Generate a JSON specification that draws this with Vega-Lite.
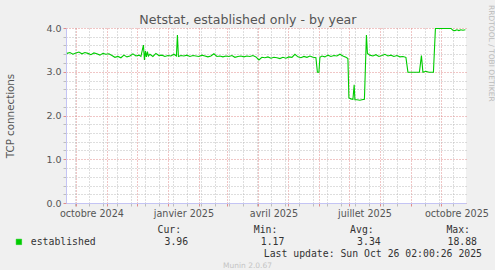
{
  "$schema": "https://vega.github.io/schema/vega-lite/v6.json",
  "background": "#f0f0f0",
  "padding": {"left": 5, "top": 5, "right": 0, "bottom": 0},
  "bounds": "flush",
  "spacing": 27,
  "title": {"text": "Netstat, established only - by year", "anchor": "middle", "frame": "bounds", "offset": -22, "dx": -2.5, "font": "DejaVu Sans", "fontSize": 12.6, "fontWeight": "normal", "color": "#555555"},
  "config": {"view": {"stroke": null}, "font": "DejaVu Sans"},
  "vconcat": [
    {
      "width": 400,
      "height": 175,
      "view": {"fill": "#ffffff", "stroke": null},
      "title": {"text": "RRDTOOL / TOBI OETIKER", "orient": "right", "anchor": "start", "dx": -18, "font": "DejaVu Sans", "fontSize": 7.5, "fontWeight": "normal", "color": "#bbbbbb", "offset": -1},
      "data": {"values": [
        {"date": "2024-09-22T00:00", "value": 3.42}, {"date": "2024-09-25T00:00", "value": 3.44}, {"date": "2024-09-28T00:00", "value": 3.40},
        {"date": "2024-10-01T00:00", "value": 3.43}, {"date": "2024-10-04T00:00", "value": 3.45}, {"date": "2024-10-07T00:00", "value": 3.41},
        {"date": "2024-10-10T00:00", "value": 3.44}, {"date": "2024-10-13T00:00", "value": 3.42}, {"date": "2024-10-16T00:00", "value": 3.39},
        {"date": "2024-10-19T00:00", "value": 3.43}, {"date": "2024-10-22T00:00", "value": 3.41}, {"date": "2024-10-25T00:00", "value": 3.38},
        {"date": "2024-10-28T00:00", "value": 3.42}, {"date": "2024-10-31T00:00", "value": 3.40}, {"date": "2024-11-03T00:00", "value": 3.41},
        {"date": "2024-11-06T00:00", "value": 3.37}, {"date": "2024-11-09T00:00", "value": 3.33}, {"date": "2024-11-12T00:00", "value": 3.35},
        {"date": "2024-11-15T00:00", "value": 3.32}, {"date": "2024-11-18T00:00", "value": 3.38}, {"date": "2024-11-21T00:00", "value": 3.34},
        {"date": "2024-11-24T00:00", "value": 3.36}, {"date": "2024-11-27T00:00", "value": 3.41}, {"date": "2024-11-30T00:00", "value": 3.36},
        {"date": "2024-12-03T00:00", "value": 3.38}, {"date": "2024-12-05T00:00", "value": 3.35}, {"date": "2024-12-07T12:00", "value": 3.61},
        {"date": "2024-12-08T12:00", "value": 3.27}, {"date": "2024-12-09T12:00", "value": 3.47}, {"date": "2024-12-10T12:00", "value": 3.34},
        {"date": "2024-12-11T12:00", "value": 3.46}, {"date": "2024-12-12T12:00", "value": 3.36}, {"date": "2024-12-14T00:00", "value": 3.40},
        {"date": "2024-12-17T00:00", "value": 3.35}, {"date": "2024-12-20T00:00", "value": 3.42}, {"date": "2024-12-23T00:00", "value": 3.37},
        {"date": "2024-12-26T00:00", "value": 3.38}, {"date": "2024-12-29T00:00", "value": 3.35}, {"date": "2025-01-01T00:00", "value": 3.37},
        {"date": "2025-01-04T00:00", "value": 3.36}, {"date": "2025-01-07T00:00", "value": 3.40}, {"date": "2025-01-09T12:00", "value": 3.36},
        {"date": "2025-01-10T12:00", "value": 3.84}, {"date": "2025-01-11T12:00", "value": 3.35}, {"date": "2025-01-14T00:00", "value": 3.37},
        {"date": "2025-01-17T00:00", "value": 3.36}, {"date": "2025-01-20T00:00", "value": 3.38}, {"date": "2025-01-23T00:00", "value": 3.35},
        {"date": "2025-01-26T00:00", "value": 3.37}, {"date": "2025-01-29T00:00", "value": 3.36}, {"date": "2025-02-01T00:00", "value": 3.35},
        {"date": "2025-02-04T00:00", "value": 3.38}, {"date": "2025-02-07T00:00", "value": 3.36}, {"date": "2025-02-10T00:00", "value": 3.34},
        {"date": "2025-02-13T00:00", "value": 3.36}, {"date": "2025-02-16T00:00", "value": 3.41}, {"date": "2025-02-19T00:00", "value": 3.35},
        {"date": "2025-02-22T00:00", "value": 3.36}, {"date": "2025-02-25T00:00", "value": 3.34}, {"date": "2025-02-28T00:00", "value": 3.36},
        {"date": "2025-03-03T00:00", "value": 3.35}, {"date": "2025-03-06T00:00", "value": 3.37}, {"date": "2025-03-09T00:00", "value": 3.33},
        {"date": "2025-03-12T00:00", "value": 3.35}, {"date": "2025-03-15T00:00", "value": 3.36}, {"date": "2025-03-18T00:00", "value": 3.34},
        {"date": "2025-03-21T00:00", "value": 3.36}, {"date": "2025-03-24T00:00", "value": 3.35}, {"date": "2025-03-27T00:00", "value": 3.37},
        {"date": "2025-03-30T00:00", "value": 3.34}, {"date": "2025-04-02T00:00", "value": 3.27}, {"date": "2025-04-05T00:00", "value": 3.33},
        {"date": "2025-04-08T00:00", "value": 3.32}, {"date": "2025-04-11T00:00", "value": 3.34}, {"date": "2025-04-14T00:00", "value": 3.31},
        {"date": "2025-04-17T00:00", "value": 3.33}, {"date": "2025-04-20T00:00", "value": 3.32}, {"date": "2025-04-23T00:00", "value": 3.30},
        {"date": "2025-04-26T00:00", "value": 3.33}, {"date": "2025-04-29T00:00", "value": 3.31}, {"date": "2025-05-02T00:00", "value": 3.34},
        {"date": "2025-05-05T00:00", "value": 3.33}, {"date": "2025-05-08T00:00", "value": 3.40}, {"date": "2025-05-11T00:00", "value": 3.34},
        {"date": "2025-05-14T00:00", "value": 3.32}, {"date": "2025-05-17T00:00", "value": 3.35}, {"date": "2025-05-20T00:00", "value": 3.33},
        {"date": "2025-05-23T00:00", "value": 3.36}, {"date": "2025-05-26T00:00", "value": 3.33}, {"date": "2025-05-29T00:00", "value": 3.32},
        {"date": "2025-05-30T12:00", "value": 2.99}, {"date": "2025-06-01T00:00", "value": 2.99}, {"date": "2025-06-02T00:00", "value": 3.33},
        {"date": "2025-06-04T00:00", "value": 3.36}, {"date": "2025-06-07T00:00", "value": 3.34}, {"date": "2025-06-10T00:00", "value": 3.38},
        {"date": "2025-06-13T00:00", "value": 3.35}, {"date": "2025-06-16T00:00", "value": 3.37}, {"date": "2025-06-19T00:00", "value": 3.36},
        {"date": "2025-06-22T00:00", "value": 3.40}, {"date": "2025-06-25T00:00", "value": 3.36}, {"date": "2025-06-28T00:00", "value": 3.33},
        {"date": "2025-06-30T00:00", "value": 3.30}, {"date": "2025-07-01T00:00", "value": 2.40}, {"date": "2025-07-03T00:00", "value": 2.38},
        {"date": "2025-07-05T00:00", "value": 2.37}, {"date": "2025-07-06T06:00", "value": 2.70}, {"date": "2025-07-07T00:00", "value": 2.36},
        {"date": "2025-07-09T00:00", "value": 2.36}, {"date": "2025-07-12T00:00", "value": 2.35}, {"date": "2025-07-14T00:00", "value": 2.36},
        {"date": "2025-07-16T12:00", "value": 2.37}, {"date": "2025-07-18T12:00", "value": 3.84}, {"date": "2025-07-19T12:00", "value": 3.42},
        {"date": "2025-07-22T00:00", "value": 3.38}, {"date": "2025-07-25T00:00", "value": 3.36}, {"date": "2025-07-28T00:00", "value": 3.39},
        {"date": "2025-07-31T00:00", "value": 3.35}, {"date": "2025-08-03T00:00", "value": 3.37}, {"date": "2025-08-06T00:00", "value": 3.40},
        {"date": "2025-08-09T00:00", "value": 3.36}, {"date": "2025-08-12T00:00", "value": 3.38}, {"date": "2025-08-15T00:00", "value": 3.35},
        {"date": "2025-08-18T00:00", "value": 3.37}, {"date": "2025-08-21T00:00", "value": 3.34}, {"date": "2025-08-24T00:00", "value": 3.35},
        {"date": "2025-08-27T00:00", "value": 3.33}, {"date": "2025-08-29T00:00", "value": 2.99}, {"date": "2025-09-01T00:00", "value": 2.99},
        {"date": "2025-09-05T00:00", "value": 2.99}, {"date": "2025-09-09T12:00", "value": 2.99}, {"date": "2025-09-11T12:00", "value": 3.37},
        {"date": "2025-09-13T00:00", "value": 2.99}, {"date": "2025-09-16T00:00", "value": 3.01}, {"date": "2025-09-19T00:00", "value": 2.99},
        {"date": "2025-09-23T12:00", "value": 2.99}, {"date": "2025-09-25T12:00", "value": 3.99}, {"date": "2025-10-01T00:00", "value": 3.99},
        {"date": "2025-10-06T00:00", "value": 3.99}, {"date": "2025-10-11T00:00", "value": 3.99}, {"date": "2025-10-13T00:00", "value": 3.95},
        {"date": "2025-10-15T00:00", "value": 3.94}, {"date": "2025-10-17T00:00", "value": 3.96}, {"date": "2025-10-19T00:00", "value": 3.94},
        {"date": "2025-10-21T00:00", "value": 3.96}, {"date": "2025-10-23T00:00", "value": 3.95}, {"date": "2025-10-25T12:00", "value": 3.96}
      ]},
      "mark": {"type": "line", "strokeWidth": 1.1},
      "encoding": {
        "x": {
          "field": "date", "type": "temporal", "title": null,
          "scale": {"domain": [{"year": 2024, "month": 9, "date": 21, "hours": 2}, {"year": 2025, "month": 10, "date": 26, "hours": 2}]},
          "axis": {
            "values": [
              {"year": 2024, "month": 9, "date": 30}, {"year": 2024, "month": 10, "date": 1}, {"year": 2024, "month": 10, "date": 14}, {"year": 2024, "month": 10, "date": 28},
              {"year": 2024, "month": 11, "date": 1}, {"year": 2024, "month": 11, "date": 11}, {"year": 2024, "month": 11, "date": 25}, {"year": 2024, "month": 12, "date": 1},
              {"year": 2024, "month": 12, "date": 9}, {"year": 2024, "month": 12, "date": 23}, {"year": 2025, "month": 1, "date": 1}, {"year": 2025, "month": 1, "date": 6},
              {"year": 2025, "month": 1, "date": 20}, {"year": 2025, "month": 2, "date": 1}, {"year": 2025, "month": 2, "date": 3}, {"year": 2025, "month": 2, "date": 17},
              {"year": 2025, "month": 3, "date": 1}, {"year": 2025, "month": 3, "date": 3}, {"year": 2025, "month": 3, "date": 17}, {"year": 2025, "month": 3, "date": 31},
              {"year": 2025, "month": 4, "date": 1}, {"year": 2025, "month": 4, "date": 14}, {"year": 2025, "month": 4, "date": 28}, {"year": 2025, "month": 5, "date": 1},
              {"year": 2025, "month": 5, "date": 12}, {"year": 2025, "month": 5, "date": 26}, {"year": 2025, "month": 6, "date": 1}, {"year": 2025, "month": 6, "date": 9},
              {"year": 2025, "month": 6, "date": 23}, {"year": 2025, "month": 7, "date": 1}, {"year": 2025, "month": 7, "date": 7}, {"year": 2025, "month": 7, "date": 21},
              {"year": 2025, "month": 8, "date": 1}, {"year": 2025, "month": 8, "date": 4}, {"year": 2025, "month": 8, "date": 18}, {"year": 2025, "month": 9, "date": 1},
              {"year": 2025, "month": 9, "date": 15}, {"year": 2025, "month": 9, "date": 29}, {"year": 2025, "month": 10, "date": 1}, {"year": 2025, "month": 10, "date": 13}
            ],
            "grid": true,
            "gridColor": {"condition": {"test": "date(datum.value) == 1", "value": "#e08c8c"}, "value": "#bdbdbd"},
            "gridDash": [1, 2],
            "gridWidth": 1,
            "ticks": true,
            "tickSize": 3,
            "tickColor": {"condition": {"test": "date(datum.value) == 1", "value": "#e08c8c"}, "value": "#bdbdbd"},
            "domainColor": "#c4c4f4",
            "labelExpr": "date(datum.value) == 1 && month(datum.value) % 3 == 0 ? ['janvier','février','mars','avril','mai','juin','juillet','août','septembre','octobre','novembre','décembre'][month(datum.value)] + ' ' + year(datum.value) : ''",
            "labelOffset": 15.5,
            "labelOverlap": false,
            "labelFlush": false,
            "labelBound": false,
            "labelFont": "DejaVu Sans",
            "labelFontSize": 9.6,
            "labelColor": "#555555",
            "labelPadding": 2
          }
        },
        "y": {
          "field": "value", "type": "quantitative",
          "scale": {"domain": [0, 4], "nice": false},
          "axis": {
            "values": [0, 0.2, 0.4, 0.6, 0.8, 1, 1.2, 1.4, 1.6, 1.8, 2, 2.2, 2.4, 2.6, 2.8, 3, 3.2, 3.4, 3.6, 3.8, 4],
            "title": "TCP connections",
            "titleFont": "DejaVu Sans",
            "titleFontSize": 10.3,
            "titleFontWeight": "normal",
            "titleColor": "#555555",
            "titlePadding": 30,
            "grid": true,
            "gridColor": {"condition": {"test": "datum.value % 1 == 0", "value": "#e08c8c"}, "value": "#bdbdbd"},
            "gridDash": [1, 2],
            "ticks": true,
            "tickSize": 3,
            "tickColor": {"condition": {"test": "datum.value % 1 == 0", "value": "#e08c8c"}, "value": "#bdbdbd"},
            "domainColor": "#c4c4f4",
            "labelExpr": "datum.value % 1 == 0 ? format(datum.value, '.1f') : ''",
            "labelOverlap": false,
            "labelFont": "DejaVu Sans",
            "labelFontSize": 9.5,
            "labelColor": "#555555",
            "labelPadding": 2
          }
        },
        "color": {
          "datum": "established",
          "type": "nominal",
          "scale": {"domain": ["established"], "range": ["#00cc00"]},
          "legend": {
            "orient": "none", "legendX": -52, "legendY": 209, "title": null, "padding": 0,
            "symbolType": "square", "symbolSize": 30, "symbolFillColor": "#00cc00", "symbolStrokeColor": "#00cc00", "symbolStrokeWidth": 0.5,
            "labelFont": "DejaVu Sans Mono", "labelFontSize": 9.8, "labelColor": "#333333", "labelOffset": 7
          }
        }
      }
    },
    {
      "width": 404,
      "height": 36,
      "layer": [
        {
          "data": {"values": [
            {"stat": "Cur", "header": "Cur:", "value": "3.96"},
            {"stat": "Min", "header": "Min:", "value": "1.17"},
            {"stat": "Avg", "header": "Avg:", "value": "3.34"},
            {"stat": "Max", "header": "Max:", "value": "18.88"}
          ]},
          "layer": [
            {
              "mark": {"type": "text", "align": "right", "baseline": "middle", "font": "DejaVu Sans Mono", "fontSize": 9.8, "color": "#333333"},
              "encoding": {
                "x": {"field": "stat", "type": "nominal", "axis": null, "scale": {"type": "point", "domain": ["Cur", "Min", "Avg", "Max"], "padding": 0.5975, "align": 1}},
                "y": {"datum": "header", "type": "nominal", "axis": null, "scale": {"type": "point", "domain": ["header", "value", "update", "footer"], "padding": 0}},
                "text": {"field": "header"}
              }
            },
            {
              "mark": {"type": "text", "align": "right", "baseline": "middle", "dx": 7, "font": "DejaVu Sans Mono", "fontSize": 9.8, "color": "#333333"},
              "encoding": {
                "x": {"field": "stat", "type": "nominal", "axis": null},
                "y": {"datum": "value", "type": "nominal", "axis": null},
                "text": {"field": "value"}
              }
            }
          ]
        },
        {
          "data": {"values": [{"stat": "Max", "text": "Last update: Sun Oct 26 02:00:26 2025"}]},
          "mark": {"type": "text", "align": "right", "baseline": "middle", "dx": 12, "font": "DejaVu Sans Mono", "fontSize": 9.8, "color": "#333333"},
          "encoding": {
            "x": {"field": "stat", "type": "nominal", "axis": null},
            "y": {"datum": "update", "type": "nominal", "axis": null},
            "text": {"field": "text"}
          }
        },
        {
          "data": {"values": [{"text": "Munin 2.0.67"}]},
          "mark": {"type": "text", "align": "center", "baseline": "middle", "dx": -20.5, "font": "DejaVu Sans", "fontSize": 7.5, "color": "#c4c4c4"},
          "encoding": {
            "y": {"datum": "footer", "type": "nominal", "axis": null},
            "text": {"field": "text"}
          }
        }
      ]
    }
  ]
}
